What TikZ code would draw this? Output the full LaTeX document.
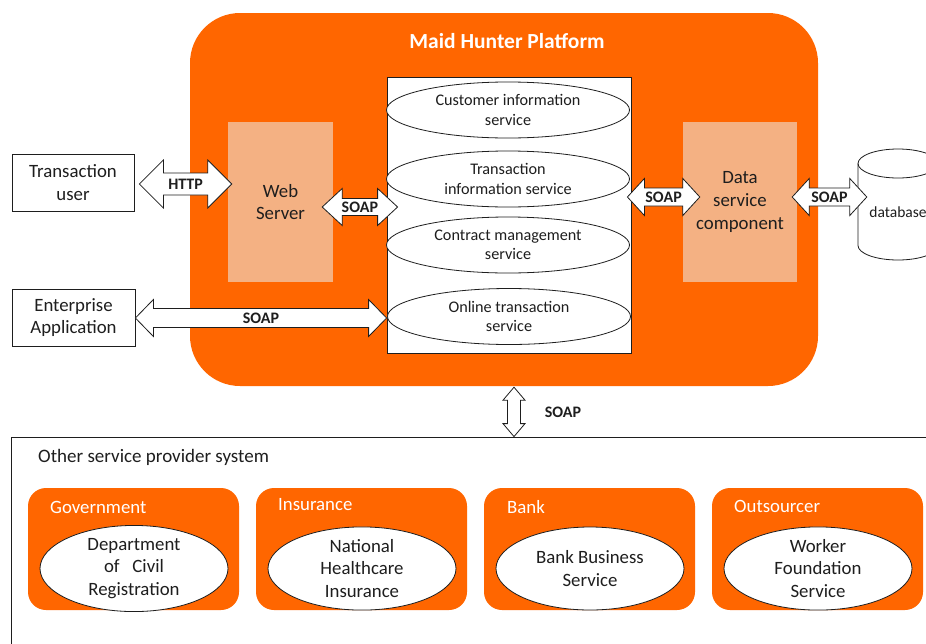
\documentclass[tikz,border=0pt]{standalone}
\usepackage{fontspec}
\setmainfont{Carlito}
\usetikzlibrary{calc,shapes.geometric}

\definecolor{mhorange}{RGB}{255,102,0}
\definecolor{mhlight}{RGB}{244,177,131}
\definecolor{ink}{RGB}{30,30,30}

% Horizontal two-headed block arrow with a label in its shaft.
% #1 left tip, #2 right tip, #3 y of the axis, #4 shaft half-height,
% #5 head half-height, #6 head length, #7 label, #8 label node name
\newcommand\hblock[8]{%
  \draw[blockarrow] let \p1=(#1), \p2=(#2), \p3=(0,#3) in
    (\x1,\y3) -- (\x1+#6pt,\y3+#5pt) -- (\x1+#6pt,\y3+#4pt)
    -- (\x2-#6pt,\y3+#4pt) -- (\x2-#6pt,\y3+#5pt) -- (\x2,\y3)
    -- (\x2-#6pt,\y3-#5pt) -- (\x2-#6pt,\y3-#4pt)
    -- (\x1+#6pt,\y3-#4pt) -- (\x1+#6pt,\y3-#5pt) -- cycle
    ({0.5*\x1+0.5*\x2},\y3) node[soaplabel] (#8) {#7};%
}

\begin{document}
\begin{tikzpicture}[x=1pt,y=-1pt,
  boxtext/.style={font=\fontsize{18.8}{22.8}\selectfont, text=ink, align=center},
  svctext/.style={font=\fontsize{16.2}{19.5}\selectfont, text=ink, align=center},
  soaplabel/.style={font=\bfseries\fontsize{16}{19}\selectfont, text=ink, inner sep=0pt},
  outerbox/.style={draw=ink, fill=white, line width=0.8pt, inner sep=0pt, boxtext},
  compbox/.style={fill=mhlight, inner sep=0pt, boxtext},
  svc/.style={ellipse, draw=ink, fill=white, line width=0.8pt, inner sep=0pt,
    minimum width=243pt, minimum height=56pt, svctext},
  group/.style={fill=mhorange, rounded corners=18pt, inner sep=0pt,
    minimum width=211pt, minimum height=122pt},
  grouplabel/.style={anchor=west, text=white, inner sep=0pt,
    font=\fontsize{18.8}{22}\selectfont},
  provider/.style={ellipse, draw=ink, fill=white, line width=0.8pt, inner sep=0pt,
    minimum width=188pt, minimum height=83pt, boxtext},
  blockarrow/.style={draw=ink, fill=white, line width=0.8pt, line join=miter}]

\useasboundingbox (0,0) rectangle (926,643);
\clip (0,0) rectangle (926,643);
\fill[white] (0,0) rectangle (926,643);

% Platform container
\node[fill=mhorange, rounded corners=50pt, inner sep=0pt,
      minimum width=628pt, minimum height=373pt] (platform) at (504,199.5) {};
\node[font=\bfseries\fontsize{21.5}{25}\selectfont, text=white] (ttl) at (507,41) {Maid Hunter Platform};

% Components inside the platform
\node[compbox, minimum width=105pt, minimum height=160pt] (web) at (280.5,202) {Web\\Server};
\node[compbox, minimum width=114pt, minimum height=160pt] (data) at (740,202) {Data\\service\\component};

% Service stack
\node[draw=ink, fill=white, line width=0.8pt, inner sep=0pt,
      minimum width=244pt, minimum height=276pt] (central) at (509,215) {};
\node[svc] (cis) at (508,110) {Customer information\\service};
\node[svc] (tis) at (508,179) {Transaction\\information service};
\node[svc] (cms) at (508,245) {Contract management\\service};
\node[svc] (ots) at (509,316.5) {Online transaction\\service};

% External clients
\node[outerbox, minimum width=122pt, minimum height=57pt] (tu) at (73,182.5) {Transaction\\user};
\node[outerbox, minimum width=123pt, minimum height=57pt] (ea) at (73.5,317.5) {Enterprise\\Application};

% Database cylinder
\filldraw[fill=white, draw=ink, line width=0.8pt]
  (858,163.5) -- (858,245.5) arc[start angle=180, end angle=0, x radius=40, y radius=14.5]
  -- (938,163.5) arc[start angle=0, end angle=-180, x radius=40, y radius=14.5] -- cycle;
\draw[ink, line width=0.8pt] (858,163.5) arc[start angle=180, end angle=0, x radius=40, y radius=14.5];
\node[inner sep=0pt, minimum width=80pt, font=\fontsize{15.5}{18}\selectfont, text=ink] (db) at (898,212) {database};

% Other service providers
\node[draw=ink, line width=0.8pt, inner sep=0pt,
      minimum width=929pt, minimum height=223pt] (others) at (475.5,548.5) {};
\node[anchor=west, inner sep=0pt, boxtext, font=\fontsize{19}{22}\selectfont] (othlbl) at (38,457) {Other service provider system};

\node[group] (gov) at (133.5,549) {};
\node[group] (ins) at (361.5,549) {};
\node[group] (bank) at (589.5,549) {};
\node[group] (outs) at (817.5,549) {};

\node[grouplabel] (govlbl) at (50,507) {Government};
\node[grouplabel] (inslbl) at (278,505) {Insurance};
\node[grouplabel] (banklbl) at (507,507) {Bank};
\node[grouplabel] (outslbl) at (734,506) {Outsourcer};

\node[provider] (dcr) at (134,568.5) {Department\\of\ \ \ Civil\\Registration};
\node[provider] (nhi) at (362,568.5) {National\\Healthcare\\Insurance};
\node[provider] (bbs) at (590,568.5) {Bank Business\\Service};
\node[provider] (wfs) at (818,568.5) {Worker\\Foundation\\Service};

% Block arrows between the parts
\hblock{$(tu.east)+(5,0)$}{$(web.west)+(4,0)$}{184}{11}{24}{24}{HTTP}{http}
\hblock{$(web.east)+(-11,0)$}{$(central.west)+(11,0)$}{207}{8.5}{18.5}{20}{SOAP}{soapa}
\hblock{ea.east}{central.west}{318}{9.5}{18.5}{18}{SOAP}{soapb}
\hblock{$(central.east)+(-4,0)$}{$(data.west)+(17,0)$}{197}{9}{18.5}{17}{SOAP}{soapc}
\hblock{$(data.east)+(-5,0)$}{$(db.west)+(9,0)$}{197}{9}{18.5}{17}{SOAP}{soapd}

% Vertical link from the platform down to the providers
\draw[blockarrow] let \p1=(platform.south), \p2=(others.north) in
  (514pt,\y1-1pt) -- (525pt,\y1-14pt) -- (520.5pt,\y1-14pt) -- (520.5pt,\y2+13pt)
  -- (525pt,\y2+13pt) -- (514pt,\y2) -- (503pt,\y2+13pt) -- (507.5pt,\y2+13pt)
  -- (507.5pt,\y1-14pt) -- (503pt,\y1-14pt) -- cycle;
\node[soaplabel] (soapv) at (563,412) {SOAP};

\end{tikzpicture}
\end{document}
